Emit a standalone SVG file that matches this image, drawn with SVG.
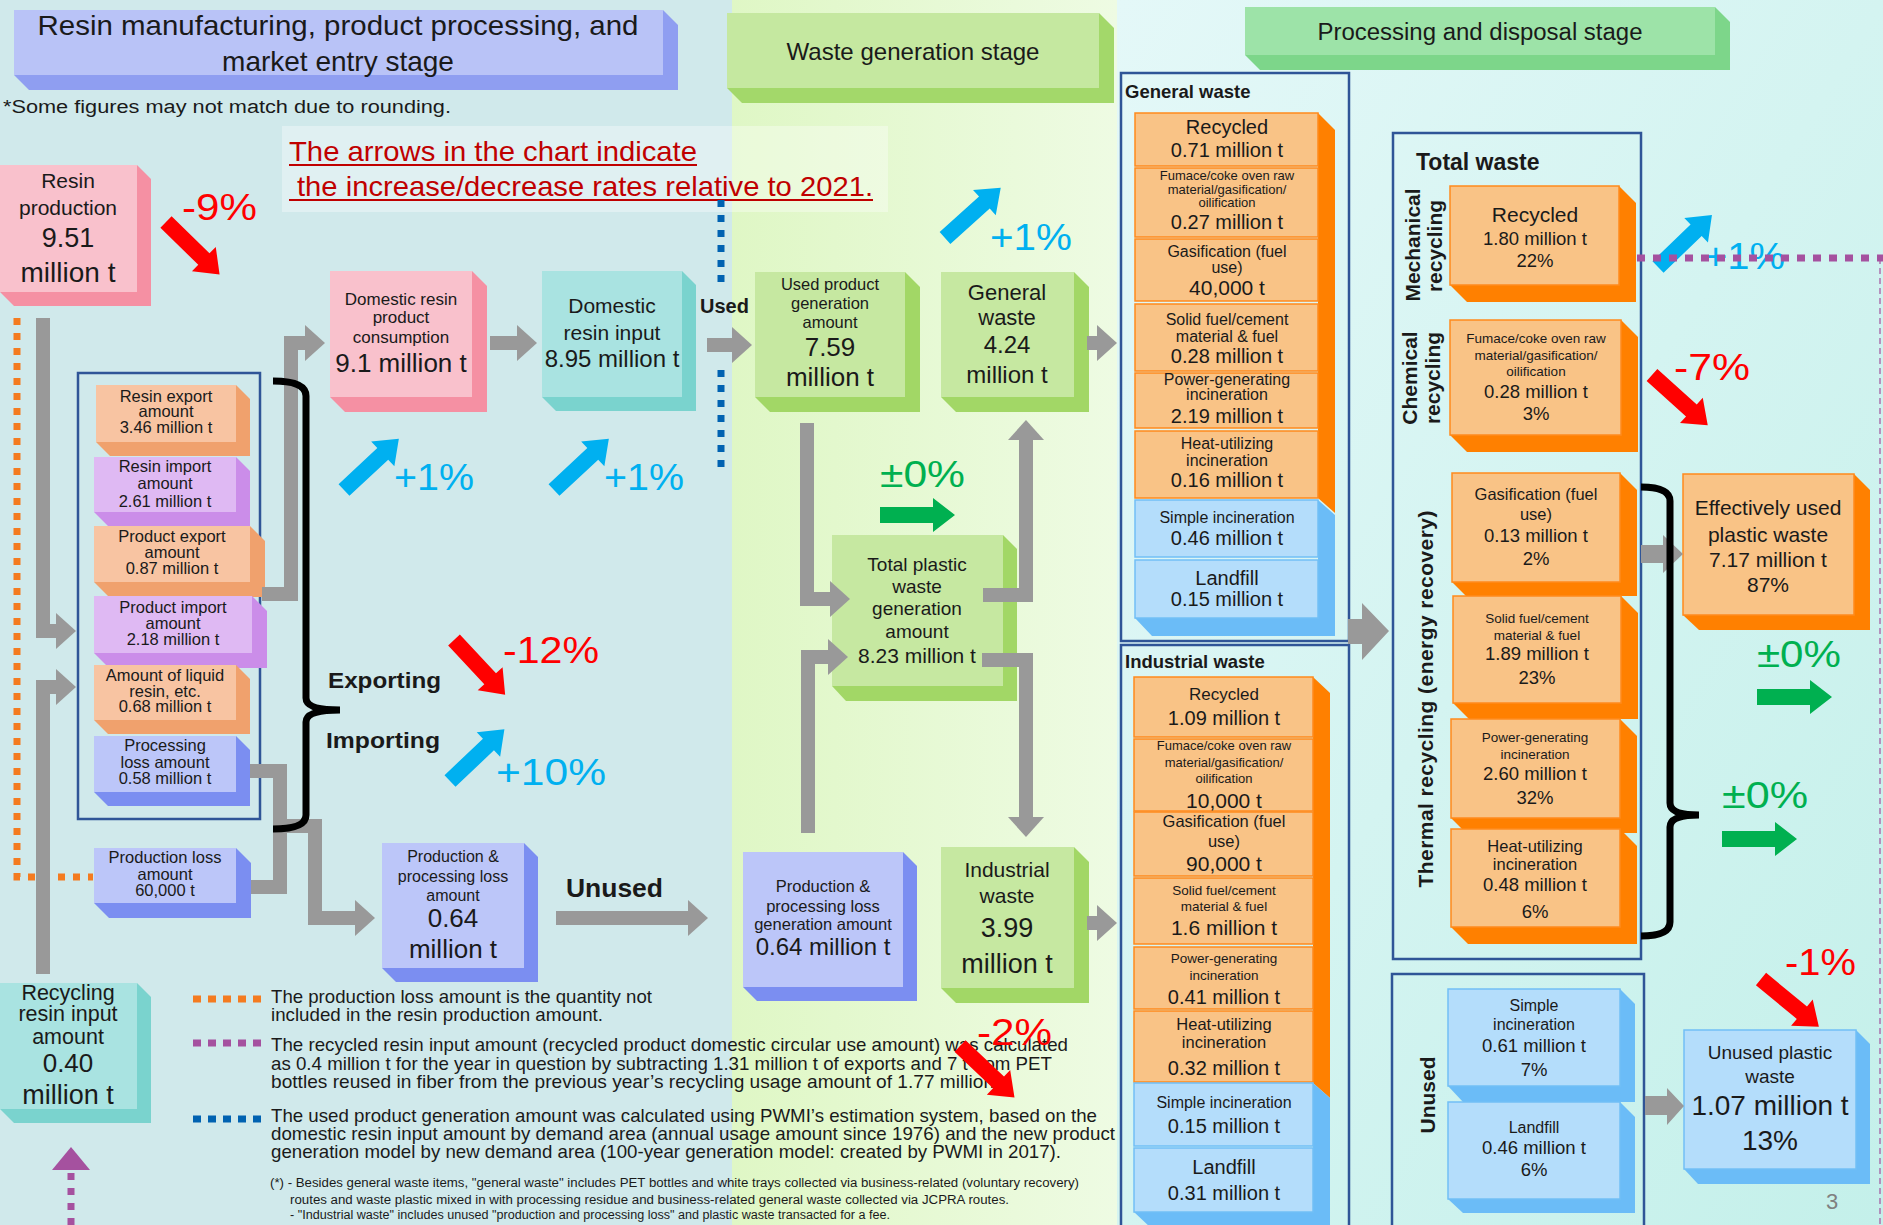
<svg xmlns="http://www.w3.org/2000/svg" xmlns:xlink="http://www.w3.org/1999/xlink" width="1883" height="1225" viewBox="0 0 1883 1225">
<defs>
<linearGradient id="gMid" x1="0" y1="0" x2="1" y2="0"><stop offset="0" stop-color="#dff7c5"/><stop offset="1" stop-color="#eefbe3"/></linearGradient>
<linearGradient id="gRight" x1="0" y1="0" x2="1" y2="1"><stop offset="0" stop-color="#e4f8f8"/><stop offset="1" stop-color="#c4f0ea"/></linearGradient>
<marker id="ah" markerUnits="userSpaceOnUse" markerWidth="20" markerHeight="36" viewBox="0 0 20 36" refX="0" refY="18" orient="auto"><path d="M0,0 L20,18 L0,36 Z" fill="#999999"/></marker>
<path id="ta" d="M0,-8 H53 V-17 L75,0 L53,17 V8 H0 Z"/>
</defs>
<style>
text{font-family:"Liberation Sans",Arial,sans-serif;fill:#1a1a1a}
.c{text-anchor:middle}
.b{font-weight:bold}
.fo{fill:#f8c4a2}.so{fill:#f0a16d}
.fp{fill:#dfb9f3}.sp{fill:#cb8de9}
.fl{fill:#bcc6f9}.sl{fill:#7b8ef1}
.fk{fill:#f9c1cc}.sk{fill:#f590a3}
.ft{fill:#a9e3e1}.st{fill:#7ad3ce}
.fg{fill:#c6e8a1}.sg{fill:#a2d766}
.fO{fill:#f9c386;stroke:#ff8a1c;stroke-width:1.5}.sO{fill:#ff8000}
.fB{fill:#b4ddfb;stroke:#72bff6;stroke-width:1.5}.sB{fill:#6bbcf7}
.panel{fill:none;stroke:#2f5597;stroke-width:2.5}
.conn{fill:none;stroke:#999999;stroke-width:14;marker-end:url(#ah)}
.bar{fill:none;stroke:#999999;stroke-width:14}
.garr{fill:#999999}
.dot{fill:none;stroke-width:7;stroke-dasharray:7 8}
.brace{fill:none;stroke:#000;stroke-width:7}
.red{fill:#ff0000}.blu{fill:#00b0f0}.grn{fill:#00b050}
.pct{font-size:36px}
.s13{font-size:13.5px}.s16{font-size:16.5px}.s18{font-size:18.5px}.s20{font-size:20px}.s21{font-size:21px}
</style>

<!-- stage backgrounds -->
<rect x="0" y="0" width="732" height="1225" fill="#d0e9eb"/>
<rect x="732" y="0" width="385" height="1225" fill="url(#gMid)"/>
<rect x="1117" y="0" width="766" height="1225" fill="url(#gRight)"/>

<!-- stage headers -->
<g id="hdr-resin">
<polygon points="14,10 663,10 678,25 678,90 29,90 14,75" fill="#8f9ef1"/>
<rect x="14" y="10" width="649" height="65" fill="#b9c3f7"/>
<text class="c" x="338" y="35" font-size="28" textLength="601" lengthAdjust="spacingAndGlyphs">Resin manufacturing, product processing, and</text>
<text class="c" x="338" y="71" font-size="28">market entry stage</text>
</g>
<g id="hdr-waste">
<polygon points="727,13 1099,13 1114,28 1114,103 742,103 727,88" fill="#a3d86a"/>
<rect x="727" y="13" width="372" height="75" fill="#c5e8a0"/>
<text class="c" x="913" y="60" font-size="24" textLength="253" lengthAdjust="spacingAndGlyphs">Waste generation stage</text>
</g>
<g id="hdr-disposal">
<polygon points="1245,7 1715,7 1730,22 1730,70 1260,70 1245,55" fill="#7dd68a"/>
<rect x="1245" y="7" width="470" height="48" fill="#9de3a8"/>
<text class="c" x="1480" y="40" font-size="23" textLength="325" lengthAdjust="spacingAndGlyphs">Processing and disposal stage</text>
</g>

<g id="note-rounding">
<text x="3" y="113" font-size="18" textLength="448" lengthAdjust="spacingAndGlyphs">*Some figures may not match due to rounding.</text>
</g>
<g id="note-arrows">
<rect x="282" y="126" width="606" height="86" fill="#ffffff" opacity="0.35"/>
<text x="289" y="161" font-size="28" style="fill:#c00000" textLength="408" lengthAdjust="spacingAndGlyphs">The arrows in the chart indicate</text>
<line x1="289" y1="165" x2="697" y2="165" stroke="#c00000" stroke-width="2"/>
<text x="297" y="196" font-size="28" style="fill:#c00000" textLength="576" lengthAdjust="spacingAndGlyphs">the increase/decrease rates relative to 2021.</text>
<line x1="289" y1="200" x2="873" y2="200" stroke="#c00000" stroke-width="2"/>
</g>

<!-- dotted notes lines -->
<g id="dotted-lines">
<polyline class="dot" stroke="#f47b20" points="17,318 17,877 93,877"/>
<line class="dot" stroke="#0062b1" x1="721" y1="200" x2="721" y2="283"/>
<line class="dot" stroke="#0062b1" x1="721" y1="370" x2="721" y2="468"/>
<line class="dot" stroke="#a5519f" x1="71" y1="1173" x2="71" y2="1225"/>
<polygon points="52,1170 90,1170 71,1147" fill="#a5519f"/>
<line x1="1880" y1="258" x2="1880" y2="1225" stroke="#a5519f" stroke-width="2" stroke-dasharray="6 4" opacity="0.6"/>
</g>

<!-- LEFT NODES -->
<g id="n-resin-production">
<polygon class="sk" points="0,165 137,165 151,179 151,306 14,306 0,292"/>
<rect class="fk" x="0" y="165" width="137" height="127"/>
<text class="c" x="68" y="188" font-size="21">Resin</text>
<text class="c" x="68" y="215" font-size="21">production</text>
<text class="c" x="68" y="247" font-size="27">9.51</text>
<text class="c" x="68" y="282" font-size="28">million t</text>
</g>

<g id="grp-trade"><rect class="panel" x="78" y="373" width="182" height="446"/></g>

<g id="n-resin-export">
<polygon class="so" points="96,385 236,385 250,399 250,456 110,456 96,442"/>
<rect class="fo" x="96" y="385" width="140" height="57"/>
<text class="c s16" x="166" y="402">Resin export</text>
<text class="c s16" x="166" y="417">amount</text>
<text class="c s16" x="166" y="433">3.46 million t</text>
</g>
<g id="n-resin-import">
<polygon class="sp" points="94,457 236,457 250,471 250,526 108,526 94,512"/>
<rect class="fp" x="94" y="457" width="142" height="55"/>
<text class="c s16" x="165" y="472">Resin import</text>
<text class="c s16" x="165" y="489">amount</text>
<text class="c s16" x="165" y="507">2.61 million t</text>
</g>
<g id="n-product-export">
<polygon class="so" points="94,526 250,526 265,541 265,597 109,597 94,582"/>
<rect class="fo" x="94" y="526" width="156" height="56"/>
<text class="c s16" x="172" y="542">Product export</text>
<text class="c s16" x="172" y="558">amount</text>
<text class="c s16" x="172" y="574">0.87 million t</text>
</g>
<g id="n-product-import">
<polygon class="sp" points="94,596 252,596 267,611 267,668 109,668 94,653"/>
<rect class="fp" x="94" y="596" width="158" height="57"/>
<text class="c s16" x="173" y="613">Product import</text>
<text class="c s16" x="173" y="629">amount</text>
<text class="c s16" x="173" y="645">2.18 million t</text>
</g>
<g id="n-liquid-resin">
<polygon class="so" points="94,665 236,665 250,679 250,734 108,734 94,720"/>
<rect class="fo" x="94" y="665" width="142" height="55"/>
<text class="c s16" x="165" y="681">Amount of liquid</text>
<text class="c s16" x="165" y="697">resin, etc.</text>
<text class="c s16" x="165" y="712">0.68 million t</text>
</g>
<g id="n-processing-loss">
<polygon class="sl" points="94,736 236,736 250,750 250,806 108,806 94,792"/>
<rect class="fl" x="94" y="736" width="142" height="56"/>
<text class="c s16" x="165" y="751">Processing</text>
<text class="c s16" x="165" y="768">loss amount</text>
<text class="c s16" x="165" y="784">0.58 million t</text>
</g>
<g id="n-production-loss">
<polygon class="sl" points="94,848 236,848 251,863 251,918 109,918 94,903"/>
<rect class="fl" x="94" y="848" width="142" height="55"/>
<text class="c s16" x="165" y="863">Production loss</text>
<text class="c s16" x="165" y="880">amount</text>
<text class="c s16" x="165" y="896">60,000 t</text>
</g>

<g id="n-domestic-consumption">
<polygon class="sk" points="330,271 472,271 487,286 487,412 345,412 330,397"/>
<rect class="fk" x="330" y="271" width="142" height="126"/>
<text class="c" x="401" y="305" font-size="17">Domestic resin</text>
<text class="c" x="401" y="323" font-size="17">product</text>
<text class="c" x="401" y="343" font-size="17">consumption</text>
<text class="c" x="401" y="372" font-size="26">9.1 million t</text>
</g>
<g id="n-domestic-input">
<polygon class="st" points="542,271 682,271 696,285 696,411 556,411 542,397"/>
<rect class="ft" x="542" y="271" width="140" height="126"/>
<text class="c" x="612" y="313" font-size="21">Domestic</text>
<text class="c" x="612" y="340" font-size="21">resin input</text>
<text class="c" x="612" y="367" font-size="24">8.95 million t</text>
</g>

<g id="n-pp-loss">
<polygon class="sl" points="382,843 524,843 538,857 538,982 396,982 382,968"/>
<rect class="fl" x="382" y="843" width="142" height="125"/>
<text class="c" x="453" y="862" font-size="16">Production &amp;</text>
<text class="c" x="453" y="882" font-size="16">processing loss</text>
<text class="c" x="453" y="901" font-size="16">amount</text>
<text class="c" x="453" y="927" font-size="26">0.64</text>
<text class="c" x="453" y="958" font-size="26">million t</text>
</g>

<g id="n-recycling-input">
<polygon class="st" points="0,983 137,983 151,997 151,1123 14,1123 0,1109"/>
<rect class="ft" x="0" y="983" width="137" height="126"/>
<text class="c" x="68" y="1000" font-size="21.5">Recycling</text>
<text class="c" x="68" y="1021" font-size="21.5">resin input</text>
<text class="c" x="68" y="1044" font-size="21.5">amount</text>
<text class="c" x="68" y="1072" font-size="26">0.40</text>
<text class="c" x="68" y="1104" font-size="27">million t</text>
</g>

<!-- MIDDLE NODES -->
<g id="n-used-product">
<polygon class="sg" points="755,272 905,272 920,287 920,412 770,412 755,397"/>
<rect class="fg" x="755" y="272" width="150" height="125"/>
<text class="c s16" x="830" y="290">Used product</text>
<text class="c s16" x="830" y="309">generation</text>
<text class="c s16" x="830" y="328">amount</text>
<text class="c" x="830" y="356" font-size="26">7.59</text>
<text class="c" x="830" y="386" font-size="26">million t</text>
</g>
<g id="n-general-waste">
<polygon class="sg" points="941,272 1074,272 1089,287 1089,412 956,412 941,397"/>
<rect class="fg" x="941" y="272" width="133" height="125"/>
<text class="c" x="1007" y="300" font-size="22">General</text>
<text class="c" x="1007" y="325" font-size="22">waste</text>
<text class="c" x="1007" y="353" font-size="24">4.24</text>
<text class="c" x="1007" y="383" font-size="24">million t</text>
</g>
<g id="n-total-plastic">
<polygon class="sg" points="832,535 1003,535 1017,549 1017,701 846,701 832,686"/>
<rect class="fg" x="832" y="535" width="171" height="151"/>
<text class="c" x="917" y="571" font-size="19">Total plastic</text>
<text class="c" x="917" y="593" font-size="19">waste</text>
<text class="c" x="917" y="615" font-size="19">generation</text>
<text class="c" x="917" y="638" font-size="19">amount</text>
<text class="c" x="917" y="663" font-size="21">8.23 million t</text>
</g>
<g id="n-pp-loss-gen">
<polygon class="sl" points="743,852 903,852 917,866 917,1001 757,1001 743,987"/>
<rect class="fl" x="743" y="852" width="160" height="135"/>
<text class="c s16" x="823" y="892">Production &amp;</text>
<text class="c s16" x="823" y="912">processing loss</text>
<text class="c s16" x="823" y="930">generation amount</text>
<text class="c" x="823" y="955" font-size="24">0.64 million t</text>
</g>
<g id="n-industrial-waste">
<polygon class="sg" points="941,847 1074,847 1089,862 1089,1003 956,1003 941,988"/>
<rect class="fg" x="941" y="847" width="133" height="141"/>
<text class="c" x="1007" y="877" font-size="21">Industrial</text>
<text class="c" x="1007" y="903" font-size="21">waste</text>
<text class="c" x="1007" y="937" font-size="27">3.99</text>
<text class="c" x="1007" y="973" font-size="27">million t</text>
</g>

<!-- RIGHT: general waste panel -->
<g id="panel-general">
<rect class="panel" x="1121" y="73" width="228" height="568"/>
<text class="b" x="1125" y="98" font-size="18.5">General waste</text>
<polygon class="sO" points="1318,113 1335,130 1335,513 1318,498"/>
<polygon class="sB" points="1318,500 1335,515 1335,636 1152,636 1135,618 1318,618"/>
</g>
<g id="gw-recycled"><rect class="fO" x="1135" y="113" width="183" height="53"/>
<text class="c s20" x="1227" y="134">Recycled</text><text class="c s20" x="1227" y="157">0.71 million t</text></g>
<g id="gw-furnace"><rect class="fO" x="1135" y="168" width="183" height="69"/>
<text class="c" font-size="13" x="1227" y="180">Fumace/coke oven raw</text><text class="c" font-size="13" x="1227" y="194">material/gasification/</text><text class="c" font-size="13" x="1227" y="207">oilification</text><text class="c s20" x="1227" y="229">0.27 million t</text></g>
<g id="gw-gasification"><rect class="fO" x="1135" y="239" width="183" height="62"/>
<text class="c" font-size="16" x="1227" y="257">Gasification (fuel</text><text class="c" font-size="16" x="1227" y="273">use)</text><text class="c s21" x="1227" y="295">40,000 t</text></g>
<g id="gw-solid-fuel"><rect class="fO" x="1135" y="304" width="183" height="67"/>
<text class="c" font-size="16" x="1227" y="325">Solid fuel/cement</text><text class="c" font-size="16" x="1227" y="342">material &amp; fuel</text><text class="c s20" x="1227" y="363">0.28 million t</text></g>
<g id="gw-power"><rect class="fO" x="1135" y="373" width="183" height="55"/>
<text class="c" font-size="16" x="1227" y="385">Power-generating</text><text class="c" font-size="16" x="1227" y="400">incineration</text><text class="c s20" x="1227" y="423">2.19 million t</text></g>
<g id="gw-heat"><rect class="fO" x="1135" y="431" width="183" height="67"/>
<text class="c" font-size="16" x="1227" y="449">Heat-utilizing</text><text class="c" font-size="16" x="1227" y="466">incineration</text><text class="c s20" x="1227" y="487">0.16 million t</text></g>
<g id="gw-simple"><rect class="fB" x="1135" y="500" width="183" height="57"/>
<text class="c" font-size="16" x="1227" y="523">Simple incineration</text><text class="c s20" x="1227" y="545">0.46 million t</text></g>
<g id="gw-landfill"><rect class="fB" x="1135" y="560" width="183" height="58"/>
<text class="c s20" x="1227" y="585">Landfill</text><text class="c s20" x="1227" y="606">0.15 million t</text></g>

<!-- RIGHT: industrial waste panel -->
<g id="panel-industrial">
<rect class="panel" x="1121" y="645" width="228" height="595"/>
<text class="b" x="1125" y="668" font-size="18.5">Industrial waste</text>
<polygon class="sO" points="1313,677 1330,693 1330,1098 1313,1083"/>
<polygon class="sB" points="1313,1083 1330,1098 1330,1228 1151,1228 1134,1212 1313,1212"/>
</g>
<g id="iw-recycled"><rect class="fO" x="1134" y="677" width="179" height="60"/>
<text class="c" font-size="17" x="1224" y="700">Recycled</text><text class="c s20" x="1224" y="725">1.09 million t</text></g>
<g id="iw-furnace"><rect class="fO" x="1134" y="739" width="179" height="72"/>
<text class="c" font-size="13" x="1224" y="750">Fumace/coke oven raw</text><text class="c" font-size="13" x="1224" y="767">material/gasification/</text><text class="c" font-size="13" x="1224" y="783">oilification</text><text class="c s21" x="1224" y="808">10,000 t</text></g>
<g id="iw-gasification"><rect class="fO" x="1134" y="812" width="179" height="64"/>
<text class="c s16" x="1224" y="827">Gasification (fuel</text><text class="c s16" x="1224" y="847">use)</text><text class="c s21" x="1224" y="871">90,000 t</text></g>
<g id="iw-solid-fuel"><rect class="fO" x="1134" y="878" width="179" height="66"/>
<text class="c s13" x="1224" y="895">Solid fuel/cement</text><text class="c s13" x="1224" y="911">material &amp; fuel</text><text class="c s21" x="1224" y="935">1.6 million t</text></g>
<g id="iw-power"><rect class="fO" x="1134" y="947" width="179" height="62"/>
<text class="c s13" x="1224" y="963">Power-generating</text><text class="c s13" x="1224" y="980">incineration</text><text class="c s20" x="1224" y="1004">0.41 million t</text></g>
<g id="iw-heat"><rect class="fO" x="1134" y="1011" width="179" height="71"/>
<text class="c s16" x="1224" y="1030">Heat-utilizing</text><text class="c s16" x="1224" y="1048">incineration</text><text class="c s20" x="1224" y="1075">0.32 million t</text></g>
<g id="iw-simple"><rect class="fB" x="1134" y="1083" width="179" height="63"/>
<text class="c" font-size="16" x="1224" y="1108">Simple incineration</text><text class="c s20" x="1224" y="1133">0.15 million t</text></g>
<g id="iw-landfill"><rect class="fB" x="1134" y="1148" width="179" height="64"/>
<text class="c s20" x="1224" y="1174">Landfill</text><text class="c s20" x="1224" y="1200">0.31 million t</text></g>

<!-- RIGHT: total waste panel -->
<g id="panel-total">
<rect class="panel" x="1393" y="133" width="248" height="826"/>
<text class="b" x="1416" y="170" font-size="23">Total waste</text>
<text class="c b" font-size="21" transform="translate(1420,245) rotate(-90)">Mechanical</text>
<text class="c b" font-size="21" transform="translate(1442,246) rotate(-90)">recycling</text>
<text class="c b" font-size="21" transform="translate(1417,378) rotate(-90)">Chemical</text>
<text class="c b" font-size="21" transform="translate(1440,378) rotate(-90)">recycling</text>
<text class="c b" font-size="21" transform="translate(1433,699) rotate(-90)" textLength="377" lengthAdjust="spacing">Thermal recycling (energy recovery)</text>
</g>
<g id="tw-recycled">
<polygon class="sO" points="1450,186 1619,186 1636,203 1636,302 1467,302 1450,285"/>
<rect class="fO" x="1450" y="186" width="169" height="99"/>
<text class="c s21" x="1535" y="222">Recycled</text><text class="c s18" x="1535" y="245">1.80 million t</text><text class="c s18" x="1535" y="267">22%</text></g>
<g id="tw-chemical">
<polygon class="sO" points="1450,320 1621,320 1638,337 1638,452 1467,452 1450,435"/>
<rect class="fO" x="1450" y="320" width="171" height="115"/>
<text class="c s13" x="1536" y="343">Fumace/coke oven raw</text><text class="c s13" x="1536" y="360">material/gasification/</text><text class="c s13" x="1536" y="376">oilification</text><text class="c s18" x="1536" y="398">0.28 million t</text><text class="c s18" x="1536" y="420">3%</text></g>
<g id="tw-gasification">
<polygon class="sO" points="1452,473 1620,473 1637,490 1637,596 1466,596 1452,582"/>
<rect class="fO" x="1452" y="473" width="168" height="109"/>
<text class="c s16" x="1536" y="500">Gasification (fuel</text><text class="c s16" x="1536" y="520">use)</text><text class="c s18" x="1536" y="542">0.13 million t</text><text class="c s18" x="1536" y="565">2%</text></g>
<g id="tw-solid-fuel">
<polygon class="sO" points="1453,596 1621,596 1638,613 1638,719 1469,719 1453,703"/>
<rect class="fO" x="1453" y="596" width="168" height="107"/>
<text class="c s13" x="1537" y="623">Solid fuel/cement</text><text class="c s13" x="1537" y="640">material &amp; fuel</text><text class="c s18" x="1537" y="660">1.89 million t</text><text class="c s18" x="1537" y="684">23%</text></g>
<g id="tw-power">
<polygon class="sO" points="1451,719 1620,719 1637,736 1637,833 1466,833 1451,818"/>
<rect class="fO" x="1451" y="719" width="169" height="99"/>
<text class="c s13" x="1535" y="742">Power-generating</text><text class="c s13" x="1535" y="759">incineration</text><text class="c s18" x="1535" y="780">2.60 million t</text><text class="c s18" x="1535" y="804">32%</text></g>
<g id="tw-heat">
<polygon class="sO" points="1451,829 1620,829 1637,846 1637,944 1468,944 1451,927"/>
<rect class="fO" x="1451" y="829" width="169" height="98"/>
<text class="c s16" x="1535" y="852">Heat-utilizing</text><text class="c s16" x="1535" y="870">incineration</text><text class="c s18" x="1535" y="891">0.48 million t</text><text class="c s18" x="1535" y="918">6%</text></g>

<!-- RIGHT: unused panel -->
<g id="panel-unused">
<rect class="panel" x="1392" y="974" width="252" height="265"/>
<text class="c b" font-size="21" transform="translate(1435,1095) rotate(-90)">Unused</text>
</g>
<g id="uw-simple">
<polygon class="sB" points="1448,989 1620,989 1635,1004 1635,1102 1463,1102 1448,1086"/>
<rect class="fB" x="1448" y="989" width="172" height="97"/>
<text class="c" font-size="16" x="1534" y="1011">Simple</text><text class="c" font-size="16" x="1534" y="1030">incineration</text><text class="c s18" x="1534" y="1052">0.61 million t</text><text class="c s18" x="1534" y="1076">7%</text></g>
<g id="uw-landfill">
<polygon class="sB" points="1448,1102 1620,1102 1635,1117 1635,1213 1463,1213 1448,1199"/>
<rect class="fB" x="1448" y="1102" width="172" height="97"/>
<text class="c" font-size="16" x="1534" y="1133">Landfill</text><text class="c s18" x="1534" y="1154">0.46 million t</text><text class="c s18" x="1534" y="1176">6%</text></g>

<g id="n-effective">
<polygon class="sO" points="1683,474 1854,474 1870,490 1870,630 1699,630 1683,615"/>
<rect class="fO" x="1683" y="474" width="171" height="141"/>
<text class="c s21" x="1768" y="515">Effectively used</text><text class="c s21" x="1768" y="542">plastic waste</text><text class="c s21" x="1768" y="567">7.17 million t</text><text class="c s21" x="1768" y="592">87%</text></g>
<g id="n-unused-plastic">
<polygon class="sB" points="1684,1030 1856,1030 1870,1044 1870,1184 1698,1184 1684,1169"/>
<rect class="fB" x="1684" y="1030" width="172" height="139"/>
<text class="c" font-size="19" x="1770" y="1059">Unused plastic</text><text class="c" font-size="19" x="1770" y="1083">waste</text><text class="c" font-size="28" x="1770" y="1115">1.07 million t</text><text class="c" font-size="28" x="1770" y="1150">13%</text></g>

<!-- CONNECTORS -->
<g id="connectors">
<polyline class="conn" points="43,318 43,631 56,631"/>
<polyline class="conn" points="43,974 43,687 56,687"/>
<polyline class="conn" points="262,594 291,594 291,343 305,343"/>
<polyline class="conn" points="490,343 517,343"/>
<polyline class="conn" points="707,345 732,345"/>
<polyline class="conn" points="1087,343 1097,343"/>
<polyline class="conn" points="807,423 807,599 830,599"/>
<polyline class="conn" points="808,833 808,657 828,657"/>
<polyline class="conn" points="983,595 1026,595 1026,440"/>
<polyline class="conn" points="982,660 1026,660 1026,817"/>
<polyline class="conn" points="1087,923 1097,923"/>
<polyline class="bar" points="250,771 280,771 280,887 251,887"/>
<polyline class="conn" points="280,826 315,826 315,918 355,918"/>
<polyline class="conn" points="556,918 688,918"/>
<polygon class="garr" points="1348,619 1362,619 1362,603 1389,631 1362,660 1362,644 1348,644"/>
<polygon class="garr" points="1641,545 1663,545 1663,535 1683,554 1663,573 1663,563 1641,563"/>
<polygon class="garr" points="1645,1096 1667,1096 1667,1088 1684,1106 1667,1125 1667,1115 1645,1115"/>
</g>

<!-- braces and flow labels -->
<g id="brace-left">
<path class="brace" d="M273,381 Q306,381 306,396 L306,698 Q306,710 340,710 Q306,710 306,722 L306,815 Q306,829 273,829"/>
<text class="b" x="328" y="688" font-size="22" textLength="113" lengthAdjust="spacingAndGlyphs">Exporting</text>
<text class="b" x="326" y="748" font-size="22" textLength="114" lengthAdjust="spacingAndGlyphs">Importing</text>
</g>
<g id="brace-right">
<path class="brace" d="M1641,487 Q1670,487 1670,501 L1670,803 Q1670,815 1699,815 Q1670,815 1670,827 L1670,922 Q1670,936 1641,936"/>
</g>
<g id="flow-labels">
<text class="b" x="700" y="313" font-size="20">Used</text>
<text class="b" x="566" y="897" font-size="25" textLength="97" lengthAdjust="spacingAndGlyphs">Unused</text>
</g>

<!-- legend -->
<g id="legend">
<line class="dot" stroke="#f47b20" style="stroke-dasharray:8 7" x1="193" y1="999" x2="262" y2="999"/>
<line class="dot" stroke="#a5519f" style="stroke-dasharray:8 7" x1="193" y1="1043" x2="262" y2="1043"/>
<line class="dot" stroke="#0062b1" style="stroke-dasharray:8 7" x1="193" y1="1119" x2="262" y2="1119"/>
<text x="271" y="1003" font-size="19" textLength="381" lengthAdjust="spacingAndGlyphs">The production loss amount is the quantity not</text>
<text x="271" y="1021" font-size="19" textLength="332" lengthAdjust="spacingAndGlyphs">included in the resin production amount.</text>
<text x="271" y="1051" font-size="19" textLength="797" lengthAdjust="spacingAndGlyphs">The recycled resin input amount (recycled product domestic circular use amount) was calculated</text>
<text x="271" y="1070" font-size="19" textLength="781" lengthAdjust="spacingAndGlyphs">as 0.4 million t for the year in question by subtracting 1.31 million t of exports and 7 t from PET</text>
<text x="271" y="1088" font-size="19" textLength="739" lengthAdjust="spacingAndGlyphs">bottles reused in fiber from the previous year’s recycling usage amount of 1.77 million t.</text>
<text x="271" y="1122" font-size="19" textLength="826" lengthAdjust="spacingAndGlyphs">The used product generation amount was calculated using PWMI’s estimation system, based on the</text>
<text x="271" y="1140" font-size="19" textLength="844" lengthAdjust="spacingAndGlyphs">domestic resin input amount by demand area (annual usage amount since 1976) and the new product</text>
<text x="271" y="1158" font-size="19" textLength="790" lengthAdjust="spacingAndGlyphs">generation model by new demand area (100-year generation model: created by PWMI in 2017).</text>
<text x="270" y="1187" font-size="12" textLength="809" lengthAdjust="spacingAndGlyphs">(*)  - Besides general waste items, "general waste" includes PET bottles and white trays collected via business-related (voluntary recovery)</text>
<text x="290" y="1204" font-size="12" textLength="719" lengthAdjust="spacingAndGlyphs">routes and waste plastic mixed in with processing residue and business-related general waste collected via JCPRA routes.</text>
<text x="290" y="1219" font-size="12" textLength="600" lengthAdjust="spacingAndGlyphs">- "Industrial waste" includes unused "production and processing loss" and plastic waste transacted for a fee.</text>
</g>

<!-- trend indicators -->
<g id="indicators">
<use xlink:href="#ta" class="red" transform="translate(166,222) rotate(44.4)"/>
<text class="red pct" x="182" y="220" textLength="75" lengthAdjust="spacingAndGlyphs">-9%</text>
<use xlink:href="#ta" class="red" transform="translate(454,640) rotate(47)"/>
<text class="red pct" x="503" y="663" textLength="96" lengthAdjust="spacingAndGlyphs">-12%</text>
<use xlink:href="#ta" class="blu" transform="translate(450,781) rotate(-43.5)"/>
<text class="blu pct" x="496" y="785" textLength="110" lengthAdjust="spacingAndGlyphs">+10%</text>
<use xlink:href="#ta" class="blu" transform="translate(344,490) rotate(-43)"/>
<text class="blu pct" x="394" y="490" textLength="80" lengthAdjust="spacingAndGlyphs">+1%</text>
<use xlink:href="#ta" class="blu" transform="translate(554,490) rotate(-43)"/>
<text class="blu pct" x="604" y="490" textLength="80" lengthAdjust="spacingAndGlyphs">+1%</text>
<use xlink:href="#ta" class="blu" transform="translate(945,238) rotate(-42)"/>
<text class="blu pct" x="990" y="250" textLength="82" lengthAdjust="spacingAndGlyphs">+1%</text>
<text class="grn pct" x="880" y="487" textLength="85" lengthAdjust="spacingAndGlyphs">±0%</text>
<use xlink:href="#ta" class="grn" transform="translate(880,515)"/>
<use xlink:href="#ta" class="red" transform="translate(960,1046) rotate(43.4)"/>
<text class="red pct" x="977" y="1045" textLength="75" lengthAdjust="spacingAndGlyphs">-2%</text>
<use xlink:href="#ta" class="blu" transform="translate(1658,267) rotate(-44)"/>
<text class="blu pct" x="1704" y="269" textLength="81" lengthAdjust="spacingAndGlyphs">+1%</text>
<use xlink:href="#ta" class="red" transform="translate(1652,375) rotate(42)"/>
<text class="red pct" x="1674" y="380" textLength="76" lengthAdjust="spacingAndGlyphs">-7%</text>
<text class="grn pct" x="1757" y="667" textLength="84" lengthAdjust="spacingAndGlyphs">±0%</text>
<use xlink:href="#ta" class="grn" transform="translate(1757,697)"/>
<text class="grn pct" x="1722" y="808" textLength="86" lengthAdjust="spacingAndGlyphs">±0%</text>
<use xlink:href="#ta" class="grn" transform="translate(1722,839)"/>
<use xlink:href="#ta" class="red" transform="translate(1761,979) rotate(39.5)"/>
<text class="red pct" x="1785" y="975" textLength="71" lengthAdjust="spacingAndGlyphs">-1%</text>
</g>

<g id="recycle-loop">
<line class="dot" stroke="#a5519f" style="stroke-dasharray:8 8" x1="1637" y1="258" x2="1883" y2="258"/>
</g>

<text x="1826" y="1209" font-size="22" style="fill:#808080">3</text>
</svg>
